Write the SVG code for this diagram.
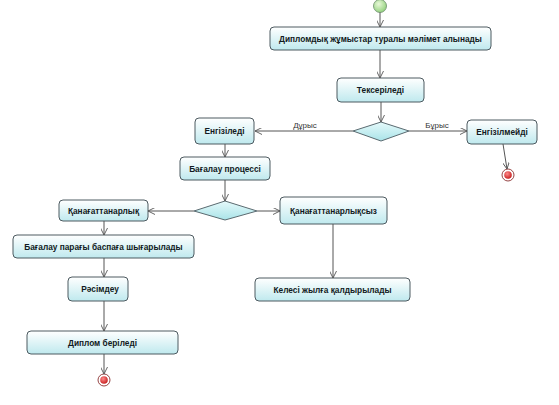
<svg xmlns="http://www.w3.org/2000/svg" width="559" height="405" viewBox="0 0 559 405">
<defs>
<linearGradient id="gBox" x1="0" y1="0" x2="0" y2="1">
<stop offset="0" stop-color="#ffffff"/>
<stop offset="1" stop-color="#bfe9ee"/>
</linearGradient>
<linearGradient id="gDia" x1="0" y1="0" x2="0" y2="1">
<stop offset="0" stop-color="#e6fafb"/>
<stop offset="1" stop-color="#a9e3e8"/>
</linearGradient>
<radialGradient id="gStart" cx="0.4" cy="0.35" r="0.7">
<stop offset="0" stop-color="#e8f8d8"/>
<stop offset="1" stop-color="#8fd07a"/>
</radialGradient>
<radialGradient id="gEnd" cx="0.4" cy="0.35" r="0.7">
<stop offset="0" stop-color="#ff8a8a"/>
<stop offset="1" stop-color="#c41a1a"/>
</radialGradient>
<marker id="arr" viewBox="0 0 10 10" refX="10" refY="5" markerWidth="7" markerHeight="7" orient="auto" markerUnits="userSpaceOnUse">
<path d="M0,0 L10,5 L0,10" fill="none" stroke="#555" stroke-width="1.3"/>
</marker>
</defs>
<style>
.box{fill:url(#gBox);stroke:#4d5a60;stroke-width:1}
.dia{fill:url(#gDia);stroke:#5a6a70;stroke-width:1}
.t{font-family:"Liberation Sans",Arial,sans-serif;font-size:8.3px;font-weight:bold;fill:#111a22;text-anchor:middle}
.lbl{font-family:"Liberation Sans",Arial,sans-serif;font-size:8px;fill:#333;text-anchor:middle}
.c{fill:none;stroke:#555;stroke-width:1}
</style>
<rect width="559" height="405" fill="#ffffff"/>

<g id="start"><circle cx="380" cy="6" r="6.5" fill="url(#gStart)" stroke="#6a8a6a" stroke-width="0.8"/></g>

<g id="n1"><rect class="box" x="270" y="27" width="221" height="23" rx="4"/><text class="t" x="380.5" y="41.5">Дипломдық жұмыстар туралы мәлімет алынады</text></g>
<g id="n2"><rect class="box" x="337" y="78" width="87" height="24" rx="4"/><text class="t" x="380.5" y="93">Тексеріледі</text></g>
<g id="d1"><polygon class="dia" points="353,131 381,122 409,131 381,141"/></g>
<g id="n3"><rect class="box" x="195" y="118" width="59" height="26" rx="4"/><text class="t" x="224.5" y="134">Енгізіледі</text></g>
<g id="n4"><rect class="box" x="467" y="120" width="70" height="24" rx="4"/><text class="t" x="502" y="135">Енгізілмейді</text></g>
<g id="end1"><circle cx="508" cy="175" r="6" fill="#fff" stroke="#8a3030" stroke-width="0.9"/><circle cx="508" cy="175" r="3.8" fill="url(#gEnd)"/></g>
<g id="n5"><rect class="box" x="180" y="157" width="90" height="23" rx="4"/><text class="t" x="225" y="171.5">Бағалау процессі</text></g>
<g id="d2"><polygon class="dia" points="194,211 225,201 257,211 225,220"/></g>
<g id="n6"><rect class="box" x="59" y="200" width="89" height="21" rx="4"/><text class="t" x="103.5" y="213.5">Қанағаттанарлық</text></g>
<g id="n7"><rect class="box" x="280" y="197" width="107" height="27" rx="4"/><text class="t" x="333.5" y="213.5">Қанағаттанарлықсыз</text></g>
<g id="n8"><rect class="box" x="255" y="278" width="155" height="23" rx="4"/><text class="t" x="332.5" y="292.5">Келесі жылға қалдырылады</text></g>
<g id="n9"><rect class="box" x="13" y="235" width="181" height="23" rx="4"/><text class="t" x="103.5" y="249.5">Бағалау парағы баспаға шығарылады</text></g>
<g id="n10"><rect class="box" x="68" y="277" width="60" height="24" rx="4"/><text class="t" x="100" y="292">Рәсімдеу</text></g>
<g id="n11"><rect class="box" x="27" y="331" width="151" height="23" rx="4"/><text class="t" x="102.5" y="345.5">Диплом беріледі</text></g>
<g id="end2"><circle cx="104" cy="380" r="6" fill="#fff" stroke="#8a3030" stroke-width="0.9"/><circle cx="104" cy="380" r="3.8" fill="url(#gEnd)"/></g>

<g id="connectors">
<line class="c" x1="380" y1="12.5" x2="380" y2="27" marker-end="url(#arr)"/>
<line class="c" x1="380" y1="50" x2="380" y2="78" marker-end="url(#arr)"/>
<line class="c" x1="381" y1="102" x2="381" y2="122" marker-end="url(#arr)"/>
<line class="c" x1="353" y1="131" x2="255" y2="131" marker-end="url(#arr)"/>
<text class="lbl" x="305" y="127.5">Дұрыс</text>
<line class="c" x1="409" y1="131" x2="467" y2="131" marker-end="url(#arr)"/>
<text class="lbl" x="437" y="127.5">Бұрыс</text>
<line class="c" x1="503" y1="144" x2="507" y2="169" marker-end="url(#arr)"/>
<line class="c" x1="225" y1="144" x2="225" y2="157" marker-end="url(#arr)"/>
<line class="c" x1="225" y1="180" x2="225" y2="201" marker-end="url(#arr)"/>
<line class="c" x1="194" y1="211" x2="148" y2="211" marker-end="url(#arr)"/>
<line class="c" x1="257" y1="211" x2="280" y2="211" marker-end="url(#arr)"/>
<line class="c" x1="333" y1="224" x2="333" y2="278" marker-end="url(#arr)"/>
<line class="c" x1="104" y1="221" x2="104" y2="235" marker-end="url(#arr)"/>
<line class="c" x1="104" y1="258" x2="104" y2="277" marker-end="url(#arr)"/>
<line class="c" x1="104" y1="301" x2="104" y2="331" marker-end="url(#arr)"/>
<line class="c" x1="104" y1="354" x2="104" y2="374" marker-end="url(#arr)"/>
</g>
</svg>
